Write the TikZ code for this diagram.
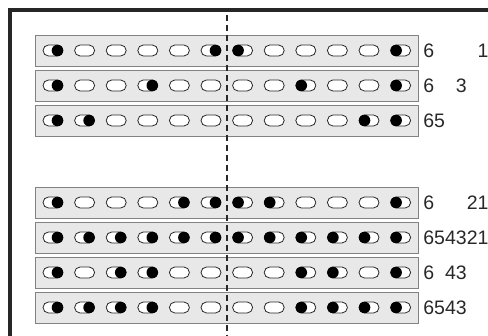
\documentclass[tikz,border=0pt]{standalone}
\usepackage{fontspec}
\setmainfont{Liberation Sans}
\usetikzlibrary{positioning}
\definecolor{stripgray}{RGB}{232,232,232}
\definecolor{edgegray}{RGB}{130,130,130}
\definecolor{inkgray}{RGB}{40,40,40}

\begin{document}
\begin{tikzpicture}[x=1pt, y=-1pt,
  strip/.style={draw=edgegray, line width=1.2pt, fill=stripgray, minimum width=383pt, minimum height=31pt, inner sep=0pt},
  pill/.style={draw=inkgray, line width=0.8pt, fill=white, rounded corners=5.5pt, minimum width=20pt, minimum height=11pt, inner sep=0pt},
  dot/.style={circle, fill=black, minimum size=11.5pt, inner sep=0pt},
  code/.style={font=\fontsize{19.5}{19.5}\selectfont, text=inkgray, inner sep=0pt},
  frame/.style={line width=3.5pt, color=black!85},
  cut/.style={line width=2.6pt, color=inkgray, dash pattern=on 6pt off 4pt},
]
\useasboundingbox (0,0) rectangle (488,336);

% outer frame, left and top only
\draw[frame] (10,336) -- (10,10) -- (488,10);

% one strip per row: 12 cells, half black where the pair is set
\foreach \r/\top/\on/\txt in {
  1/35/{1,6,7,12}/{6\phantom{5432}1},
  2/70/{1,4,9,12}/{6\phantom{54}3},
  3/105/{1,2,11,12}/{65},
  4/187/{1,5,6,7,8,12}/{6\phantom{543}21},
  5/222/{1,2,3,4,5,6,7,8,9,10,11,12}/{654321},
  6/257/{1,3,4,9,10,12}/{6\phantom{5}43},
  7/292/{1,2,3,4,9,10,11,12}/{6543}} {
  \node[strip, anchor=north west] (strip\r) at (35,\top) {};
  \foreach \k in {1,...,12}
    \node[pill] (p\r-\k) at (53+31.6*\k-31.6, \top+15.5) {};
  \foreach \k in \on {
    \ifnum\k<7
      \node[dot, anchor=east] (d\r-\k) at (p\r-\k.east) {};
    \else
      \node[dot, anchor=west] (d\r-\k) at (p\r-\k.west) {};
    \fi
  }
  \node[code, anchor=west, right=4pt of strip\r] (lab\r) {\txt};
}

% centre line
\coordinate (cuttop) at (227,15);
\coordinate (cutbot) at (227,336);
\draw[cut] (cuttop) -- (cutbot);
\end{tikzpicture}
\end{document}
